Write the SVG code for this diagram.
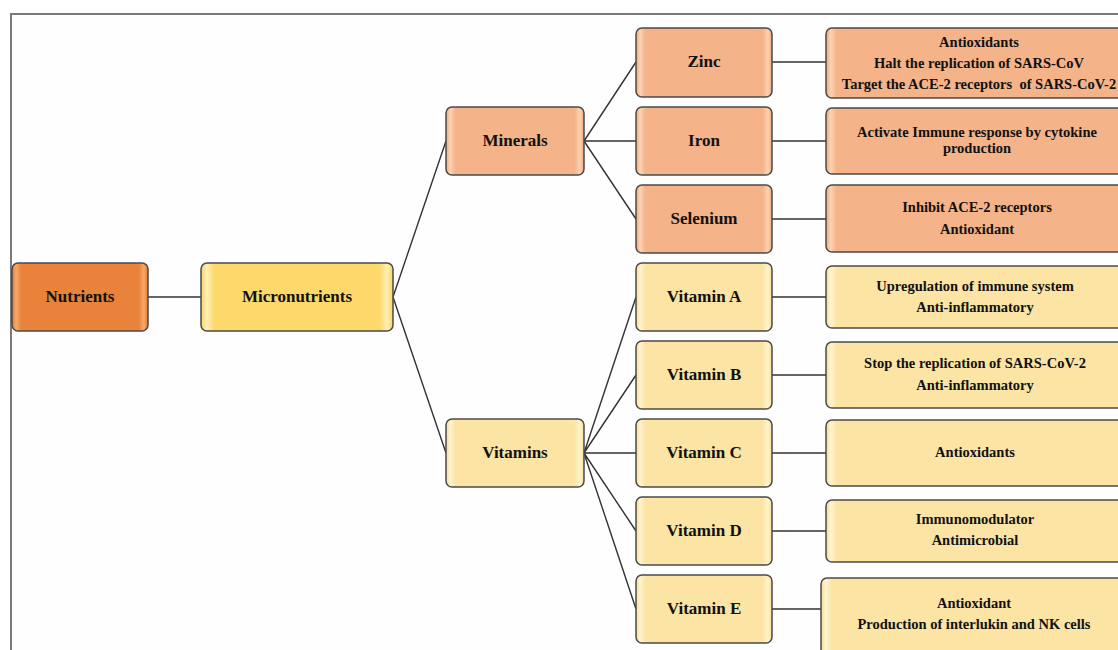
<svg xmlns="http://www.w3.org/2000/svg" width="1118" height="650" viewBox="0 0 1118 650">
<style>
.box{stroke:#4a4a4a;stroke-width:1.5}
.t{font-family:"Liberation Serif","Times New Roman",serif;font-weight:bold;fill:#111;text-anchor:middle}
.h{font-size:17px}
.d{font-size:14.5px}
.c{fill:none;stroke:#333;stroke-width:1.4}
</style>
<defs>
<linearGradient id="gDark" x1="0" y1="0" x2="1" y2="0">
<stop offset="0" stop-color="#e47a30"/><stop offset="0.03" stop-color="#f5a868"/><stop offset="0.07" stop-color="#e9823a"/><stop offset="0.93" stop-color="#e9823a"/><stop offset="0.97" stop-color="#f5a868"/><stop offset="1" stop-color="#e47a30"/>
</linearGradient>
<linearGradient id="gSal" x1="0" y1="0" x2="1" y2="0">
<stop offset="0" stop-color="#f0a878"/><stop offset="0.03" stop-color="#fcd2b4"/><stop offset="0.07" stop-color="#f4b388"/><stop offset="0.93" stop-color="#f4b388"/><stop offset="0.97" stop-color="#fcd2b4"/><stop offset="1" stop-color="#f0a878"/>
</linearGradient>
<linearGradient id="gSalW" x1="0" y1="0" x2="1" y2="0">
<stop offset="0" stop-color="#f0a878"/><stop offset="0.015" stop-color="#fcd2b4"/><stop offset="0.035" stop-color="#f4b388"/><stop offset="1" stop-color="#f4b388"/>
</linearGradient>
<linearGradient id="gYel" x1="0" y1="0" x2="1" y2="0">
<stop offset="0" stop-color="#fbd35e"/><stop offset="0.03" stop-color="#fff0b8"/><stop offset="0.07" stop-color="#fdd96c"/><stop offset="0.93" stop-color="#fdd96c"/><stop offset="0.97" stop-color="#fff0b8"/><stop offset="1" stop-color="#fbd35e"/>
</linearGradient>
<linearGradient id="gLt" x1="0" y1="0" x2="1" y2="0">
<stop offset="0" stop-color="#f8dc90"/><stop offset="0.03" stop-color="#fff4d0"/><stop offset="0.07" stop-color="#fbe4a4"/><stop offset="0.93" stop-color="#fbe4a4"/><stop offset="0.97" stop-color="#fff4d0"/><stop offset="1" stop-color="#f8dc90"/>
</linearGradient>
<linearGradient id="gLtW" x1="0" y1="0" x2="1" y2="0">
<stop offset="0" stop-color="#f8dc90"/><stop offset="0.015" stop-color="#fff4d0"/><stop offset="0.035" stop-color="#fbe4a4"/><stop offset="1" stop-color="#fbe4a4"/>
</linearGradient>
</defs>
<rect x="0" y="0" width="1118" height="650" fill="#fff"/>
<rect x="11" y="14" width="1130" height="660" fill="#fefefe" stroke="#7a7a7a" stroke-width="2"/>

<g id="connectors">
<path class="c" d="M148 297H201"/>
<path class="c" d="M393 297L446 141M393 297L446 453"/>
<path class="c" d="M584 141L636 62M584 141H636M584 141L636 219"/>
<path class="c" d="M584 453L636 297M584 453L636 375M584 453H636M584 453L636 531M584 453L636 609"/>
<path class="c" d="M772 62H826M772 141H826M772 219H826M772 297H826M772 375H826M772 453H826M772 531H826M772 609H821"/>
</g>

<g id="nutrients"><rect class="box" x="12" y="263" width="136" height="68" rx="6" fill="url(#gDark)"/><text class="t h" x="80" y="302">Nutrients</text></g>
<g id="micronutrients"><rect class="box" x="201" y="263" width="192" height="68" rx="6" fill="url(#gYel)"/><text class="t h" x="297" y="302">Micronutrients</text></g>
<g id="minerals"><rect class="box" x="446" y="107" width="138" height="68" rx="6" fill="url(#gSal)"/><text class="t h" x="515" y="146">Minerals</text></g>
<g id="vitamins"><rect class="box" x="446" y="419" width="138" height="68" rx="6" fill="url(#gLt)"/><text class="t h" x="515" y="458">Vitamins</text></g>

<g id="zinc"><rect class="box" x="636" y="28" width="136" height="69" rx="6" fill="url(#gSal)"/><text class="t h" x="704" y="67">Zinc</text></g>
<g id="iron"><rect class="box" x="636" y="107" width="136" height="68" rx="6" fill="url(#gSal)"/><text class="t h" x="704" y="146">Iron</text></g>
<g id="selenium"><rect class="box" x="636" y="185" width="136" height="68" rx="6" fill="url(#gSal)"/><text class="t h" x="704" y="224">Selenium</text></g>
<g id="vitaminA"><rect class="box" x="636" y="263" width="136" height="68" rx="6" fill="url(#gLt)"/><text class="t h" x="704" y="302">Vitamin A</text></g>
<g id="vitaminB"><rect class="box" x="636" y="341" width="136" height="68" rx="6" fill="url(#gLt)"/><text class="t h" x="704" y="380">Vitamin B</text></g>
<g id="vitaminC"><rect class="box" x="636" y="419" width="136" height="68" rx="6" fill="url(#gLt)"/><text class="t h" x="704" y="458">Vitamin C</text></g>
<g id="vitaminD"><rect class="box" x="636" y="497" width="136" height="68" rx="6" fill="url(#gLt)"/><text class="t h" x="704" y="536">Vitamin D</text></g>
<g id="vitaminE"><rect class="box" x="636" y="575" width="136" height="68" rx="6" fill="url(#gLt)"/><text class="t h" x="704" y="614">Vitamin E</text></g>

<g id="zinc-effects"><rect class="box" x="826" y="28" width="310" height="70" rx="6" fill="url(#gSalW)"/>
<text class="t d" x="979" y="47">Antioxidants</text><text class="t d" x="979" y="68">Halt the replication of SARS-CoV</text><text class="t d" x="979" y="89" xml:space="preserve">Target the ACE-2 receptors  of SARS-CoV-2</text></g>
<g id="iron-effects"><rect class="box" x="826" y="108" width="310" height="66" rx="6" fill="url(#gSalW)"/>
<text class="t d" x="977" y="137">Activate Immune response by cytokine</text><text class="t d" x="977" y="153">production</text></g>
<g id="selenium-effects"><rect class="box" x="826" y="185" width="310" height="67" rx="6" fill="url(#gSalW)"/>
<text class="t d" x="977" y="212">Inhibit ACE-2 receptors</text><text class="t d" x="977" y="234">Antioxidant</text></g>
<g id="vitaminA-effects"><rect class="box" x="826" y="266" width="310" height="62" rx="6" fill="url(#gLtW)"/>
<text class="t d" x="975" y="291">Upregulation of immune system</text><text class="t d" x="975" y="312">Anti-inflammatory</text></g>
<g id="vitaminB-effects"><rect class="box" x="826" y="342" width="310" height="66" rx="6" fill="url(#gLtW)"/>
<text class="t d" x="975" y="368">Stop the replication of SARS-CoV-2</text><text class="t d" x="975" y="390">Anti-inflammatory</text></g>
<g id="vitaminC-effects"><rect class="box" x="826" y="420" width="310" height="66" rx="6" fill="url(#gLtW)"/>
<text class="t d" x="975" y="457">Antioxidants</text></g>
<g id="vitaminD-effects"><rect class="box" x="826" y="500" width="310" height="62" rx="6" fill="url(#gLtW)"/>
<text class="t d" x="975" y="524">Immunomodulator</text><text class="t d" x="975" y="545">Antimicrobial</text></g>
<g id="vitaminE-effects"><rect class="box" x="821" y="578" width="315" height="90" rx="6" fill="url(#gLtW)"/>
<text class="t d" x="974" y="608">Antioxidant</text><text class="t d" x="974" y="629">Production of interlukin and NK cells</text></g>
</svg>
